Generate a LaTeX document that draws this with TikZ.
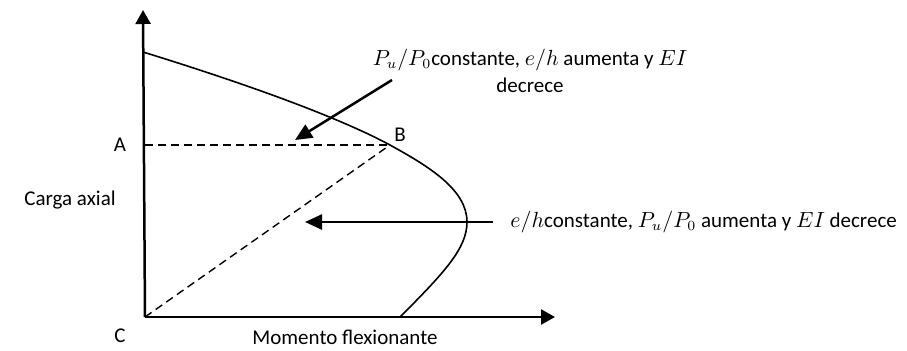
\documentclass[tikz,border=0pt]{standalone}
\usepackage{fontspec}
\setmainfont{Carlito}
\usetikzlibrary{arrows.meta}
\tikzset{
  axisline/.style={line width=1.25pt, -{Triangle[length=7pt,width=7.5pt]}},
  pointer/.style={line width=1.25pt, -{Triangle[length=8.5pt,width=7.5pt]}},
  guide/.style={line width=0.7pt, dash pattern=on 4pt off 2.5pt},
  lbl/.style={font=\fontsize{10.5}{13.5}\selectfont, inner sep=0pt},
}

\begin{document}
\begin{tikzpicture}[x=0.5pt, y=-0.5pt]
  \useasboundingbox (0,0) rectangle (907,350);

  % Key points
  \coordinate (C) at (145,317);
  \coordinate (A) at (145,145);
  \coordinate (B) at (390,145);
  \coordinate (ytip) at (143,10);
  \coordinate (xtip) at (555,317);

  % Axes
  \draw[axisline] (C) -- (ytip);
  \draw[axisline] (C) -- (xtip);

  % Interaction curve
  \draw[line width=0.8pt] (143,52) .. controls (250,85) and (340,118) .. (B)
    .. controls (430,167) and (467,190) .. (467,222)
    .. controls (467,248) and (445,272) .. (400,317);

  % Dashed guides
  \draw[guide] (A) -- (B);
  \draw[guide] (C) -- (B);

  % Point labels
  \node[lbl] (labA) at (120,145) {A};
  \node[lbl] (labB) at (400,135) {B};
  \node[lbl] (labC) at (120,336) {C};
  \node[lbl] (ylabel) at (70,200) {Carga axial};
  \node[lbl] (xlabel) at (345,337) {Momento flexionante};

  % Upper pointer
  \coordinate (p1from) at (392,80);
  \coordinate (p1to) at (295,140);
  \draw[pointer] (p1from) -- (p1to);
  \node[lbl, align=center] (note1) at (530,71)
    {$P_u/P_0$constante, $e/h$ aumenta y $EI$\\decrece};

  % Lower pointer
  \coordinate (p2from) at (493,222);
  \coordinate (p2to) at (305,222);
  \draw[pointer] (p2from) -- (p2to);
  \node[lbl, anchor=west] (note2) at (510,222)
    {$e/h$constante, $P_u/P_0$ aumenta y $EI$ decrece};
\end{tikzpicture}
\end{document}
